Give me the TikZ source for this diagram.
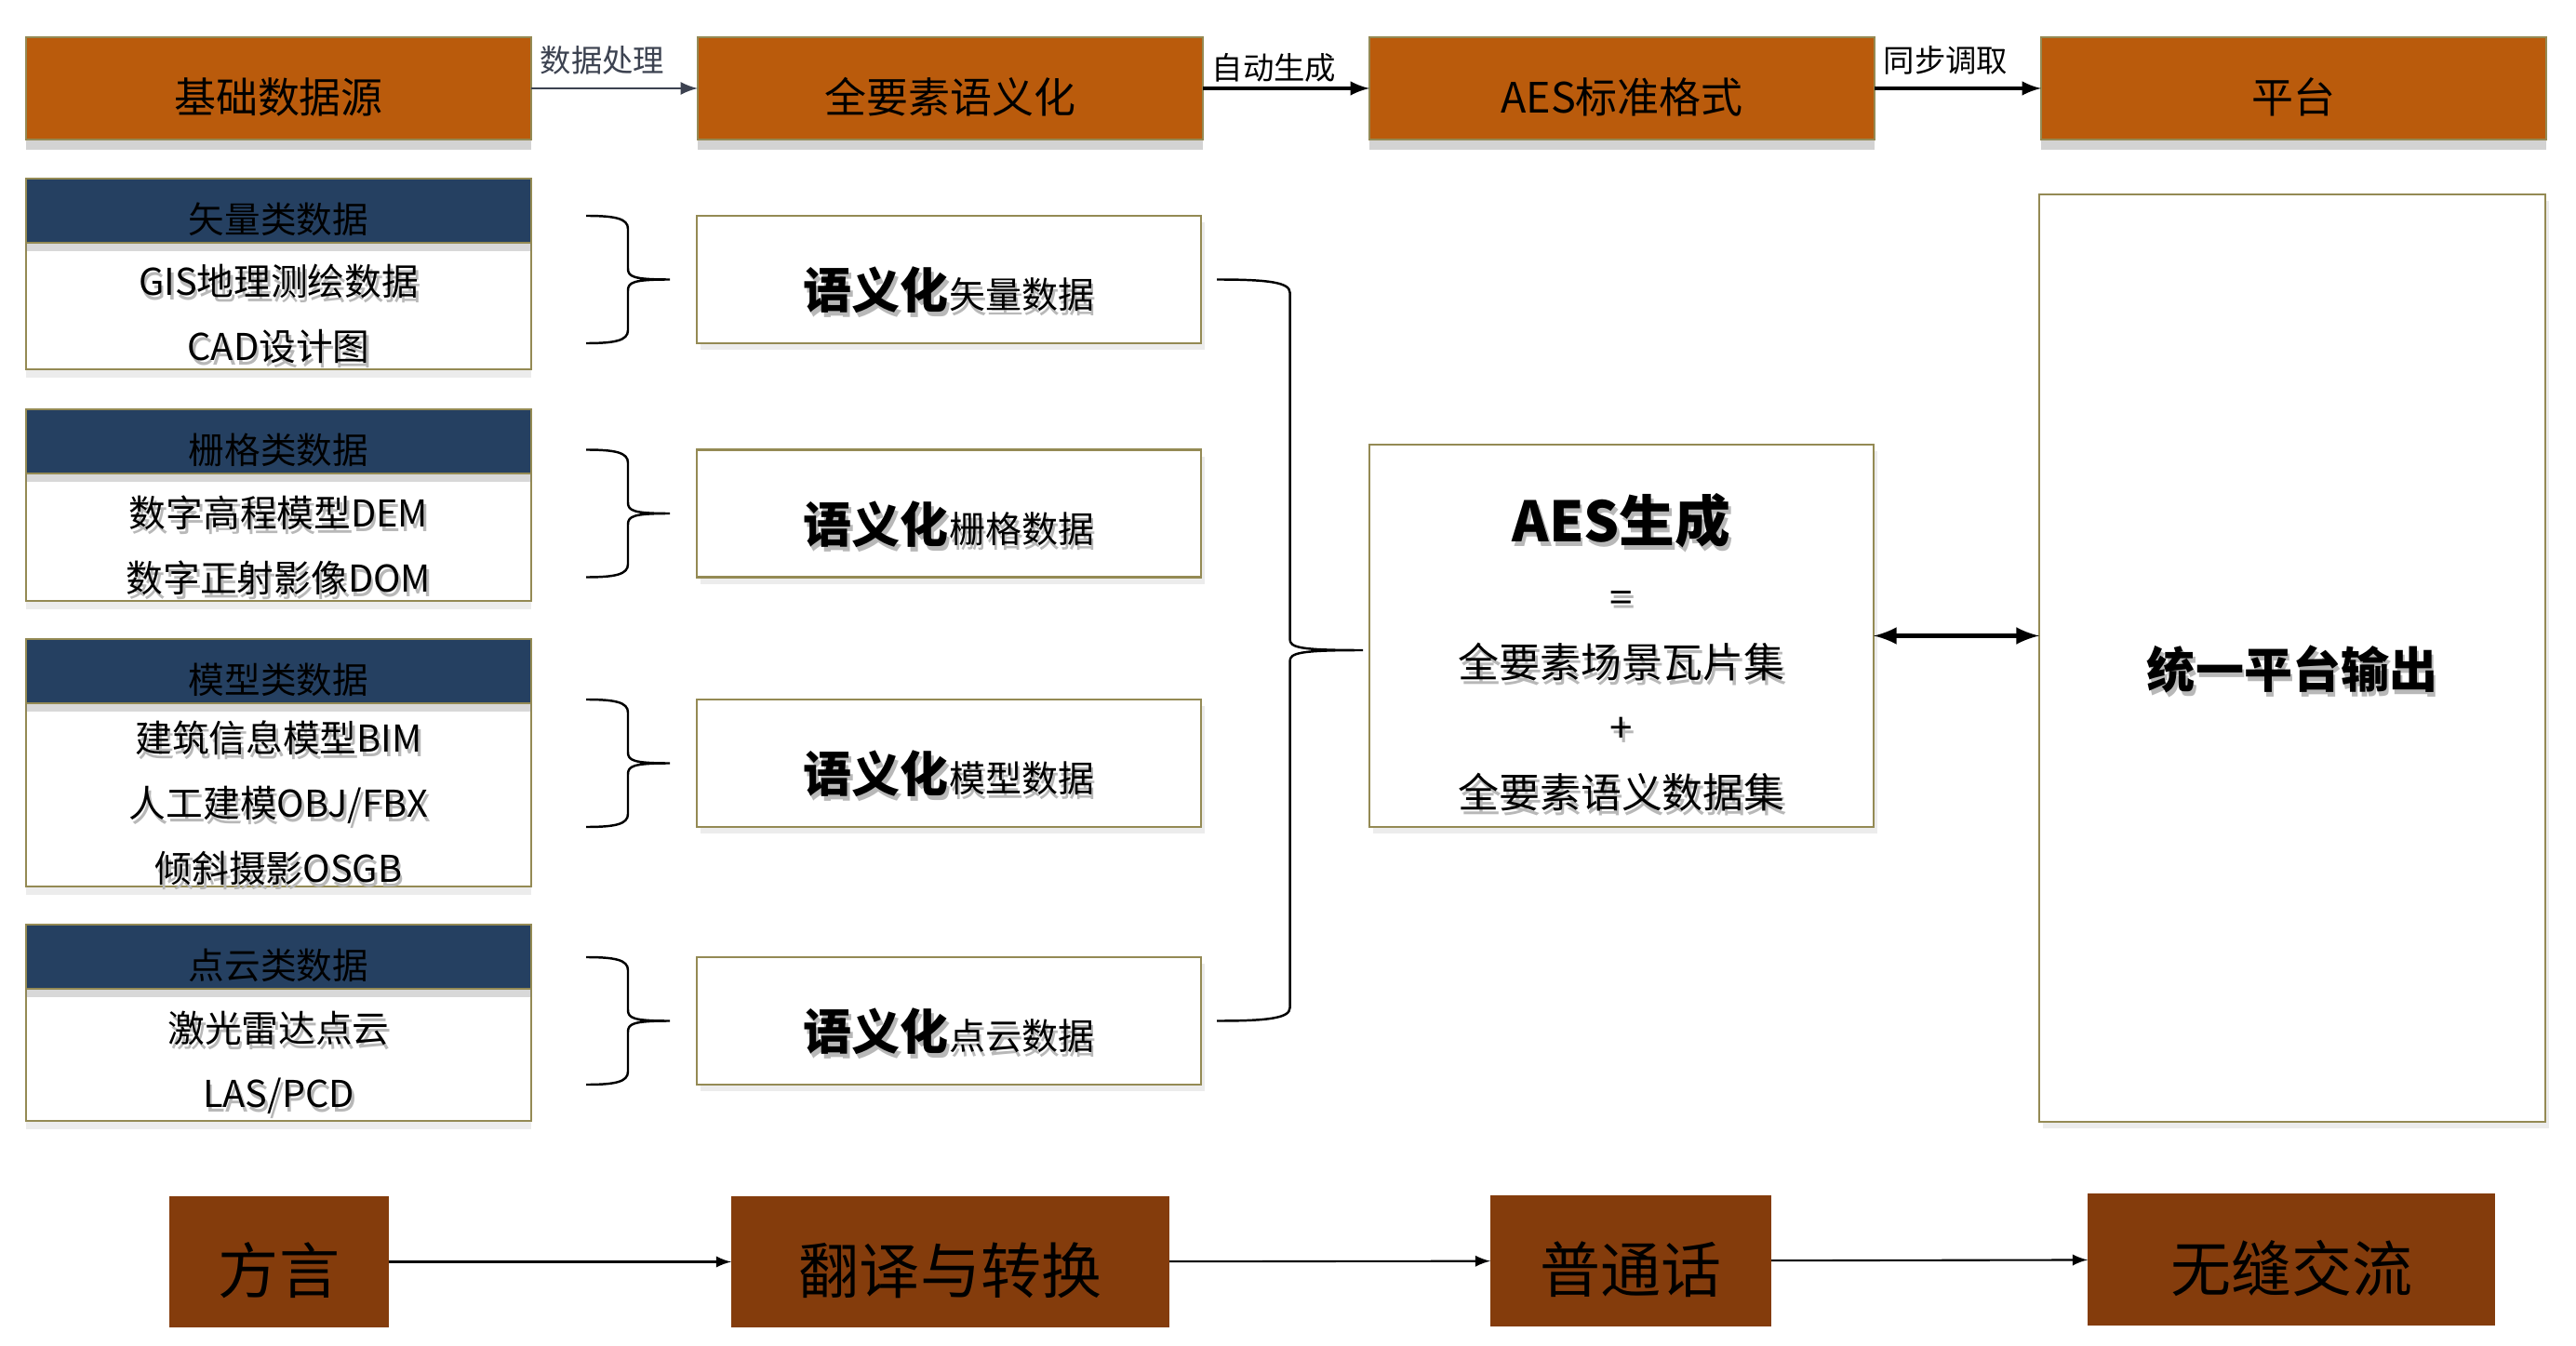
\documentclass[tikz,border=0pt]{standalone}
\usepackage{fontspec}
\setmainfont{Noto Sans CJK SC}
\usetikzlibrary{positioning, calc, shadows}
\definecolor{rust}{RGB}{186,91,12}
\definecolor{umber}{RGB}{132,60,12}
\definecolor{navy}{RGB}{37,64,97}
\definecolor{tan}{RGB}{148,138,84}
\definecolor{slate}{RGB}{60,66,80}
\newcommand{\fsz}[2]{\fontsize{#1pt}{#2pt}\selectfont}
% text with a soft shadow under it
\newcommand{\shtxt}[1]{\leavevmode\rlap{\raisebox{-1.4pt}{\kern0.8pt\textcolor{black!28}{#1}}}#1}
% lower the ink of a text, keep its box
\newcommand{\dn}[2][2.6pt]{\raisebox{-#1}[\height][\depth]{#2}}
% right brace: top point, bottom point, width
\newcommand{\rbrc}[3]{%
  \draw[line width=0.7pt] let \p1=(#1), \p2=(#2), \n1={#3}, \n2={(\y1+\y2)/2} in
    (\x1,\y1) .. controls (\x1+0.35*\n1,\y1) and (\x1+0.5*\n1,\y1-0.03cm) .. (\x1+0.5*\n1,\y1-0.14cm)
    -- (\x1+0.5*\n1,\n2+0.12cm) .. controls (\x1+0.5*\n1,\n2+0.03cm) and (\x1+0.56*\n1,\n2) .. (\x1+\n1,\n2)
    .. controls (\x1+0.56*\n1,\n2) and (\x1+0.5*\n1,\n2-0.03cm) .. (\x1+0.5*\n1,\n2-0.12cm)
    -- (\x1+0.5*\n1,\y2+0.14cm) .. controls (\x1+0.5*\n1,\y2+0.03cm) and (\x1+0.35*\n1,\y2) .. (\x1,\y2);}

\begin{document}
\begin{tikzpicture}[
    every node/.style={inner sep=0pt, outer sep=0pt},
    topbox/.style={draw=tan, line width=0.8pt, fill=rust, minimum width=5.43cm, minimum height=1.1cm,
      font=\fsz{12.8}{15}, drop shadow={shadow xshift=0pt, shadow yshift=-3pt, opacity=.35}},
    headbox/.style={draw=tan, line width=0.8pt, fill=navy, minimum width=5.43cm, minimum height=0.69cm,
      font=\fsz{11}{13}, drop shadow={shadow xshift=0pt, shadow yshift=-2.5pt, opacity=.3}},
    bodybox/.style={draw=tan, line width=0.8pt, fill=white, minimum width=5.43cm,
      drop shadow={shadow xshift=0pt, shadow yshift=-2.5pt, opacity=.15}},
    lines/.style={align=center, font=\fsz{11.3}{19.9}},
    whitebox/.style={draw=tan, line width=0.7pt, fill=white, minimum width=5.42cm,
      drop shadow={shadow xshift=1pt, shadow yshift=-2pt, opacity=.15}},
    botbox/.style={fill=umber, minimum height=1.41cm, font=\fsz{18.5}{22}},
    lbl/.style={font=\fsz{9.5}{11}, above=0.15cm, xshift=-0.13cm},
  ]
  \useasboundingbox (0,0) rectangle (27.69,-14.47);

  % top row
  \node[topbox] (src) at (2.995,-0.95) {\dn{基础数据源}};
  \node[topbox, right=1.79cm of src] (sem) {\dn{全要素语义化}};
  \node[topbox, right=1.79cm of sem] (std) {\dn{AES标准格式}};
  \node[topbox, right=1.79cm of std] (plat) {\dn{平台}};

  \draw[-latex, slate, line width=0.8pt] (src) -- node[lbl] {数据处理} (sem);
  \draw[-latex, line width=1pt] (sem) -- node[lbl, yshift=-0.08cm] {自动生成} (std);
  \draw[-latex, line width=1pt] (std) -- node[lbl] {同步调取} (plat);

  % source data groups
  \node[bodybox, minimum height=1.36cm] (b1) at (2.995,-3.29) {};
  \node[headbox, above=0pt of b1] (h1) {\dn{矢量类数据}};
  \node[lines] (t1) at ([yshift=-0.11cm]b1.center) {\shtxt{GIS地理测绘数据}\\\shtxt{CAD设计图}};
  \node[bodybox, minimum height=1.37cm] (b2) at (2.995,-5.775) {};
  \node[headbox, above=0pt of b2] (h2) {\dn{栅格类数据}};
  \node[lines] (t2) at ([yshift=-0.11cm]b2.center) {\shtxt{数字高程模型DEM}\\\shtxt{数字正射影像DOM}};
  \node[bodybox, minimum height=1.97cm] (b3) at (2.995,-8.545) {};
  \node[headbox, above=0pt of b3] (h3) {\dn{模型类数据}};
  \node[lines] (t3) at ([yshift=-0.11cm]b3.center) {\shtxt{建筑信息模型BIM}\\\shtxt{人工建模OBJ/FBX}\\\shtxt{倾斜摄影OSGB}};
  \node[bodybox, minimum height=1.42cm] (b4) at (2.995,-11.34) {};
  \node[headbox, above=0pt of b4] (h4) {\dn{点云类数据}};
  \node[lines] (t4) at ([yshift=-0.11cm]b4.center) {\shtxt{激光雷达点云}\\\shtxt{LAS/PCD}};

  % semantic boxes
  \node[whitebox, minimum height=1.37cm] (v1) at (10.20,-3.005) {\dn[4pt]{\shtxt{{\bfseries\fsz{14.8}{17}语义化}{\fsz{11.1}{13}矢量数据}}}};
  \node[whitebox, minimum height=1.37cm] (v2) at (10.20,-5.52) {\dn[4pt]{\shtxt{{\bfseries\fsz{14.8}{17}语义化}{\fsz{11.1}{13}栅格数据}}}};
  \node[whitebox, minimum height=1.37cm] (v3) at (10.20,-8.205) {\dn[4pt]{\shtxt{{\bfseries\fsz{14.8}{17}语义化}{\fsz{11.1}{13}模型数据}}}};
  \node[whitebox, minimum height=1.37cm] (v4) at (10.20,-10.975) {\dn[4pt]{\shtxt{{\bfseries\fsz{14.8}{17}语义化}{\fsz{11.1}{13}点云数据}}}};

  \foreach \i in {1,...,4}{
    \rbrc{[xshift=-1.19cm]v\i.north west}{[xshift=-1.19cm]v\i.south west}{0.9cm}
  }
  \rbrc{[xshift=0.17cm]v1.east}{[xshift=0.17cm]v4.east}{1.57cm}

  % AES and output
  \node[whitebox, minimum height=4.11cm] (aes) at (17.43,-6.835) {};
  \node[align=center, font=\fsz{12.5}{19.9}] (aestxt) at ([yshift=-0.2cm]aes.center)
    {\shtxt{\bfseries\fsz{17}{20}AES生成}\\[1.8pt]\shtxt{=}\\\shtxt{全要素场景瓦片集}\\\shtxt{+}\\\shtxt{全要素语义数据集}};
  \node[whitebox, minimum width=5.44cm, minimum height=9.97cm] (out) at (24.64,-7.075) {};
  \node[font=\bfseries\fsz{14.8}{17}] (outtxt) at ([yshift=-0.14cm]out.center) {\shtxt{统一平台输出}};
  \draw[latex-latex, line width=1.4pt] (aes.east) -- (aes.east -| out.west);

  % bottom analogy row
  \node[botbox, minimum width=2.36cm] (dia) at (3.00,-13.565) {\dn{方言}};
  \node[botbox, minimum width=4.71cm] (trn) at (10.215,-13.565) {\dn{翻译与转换}};
  \node[botbox, minimum width=3.02cm] (mand) at (17.53,-13.555) {\dn{普通话}};
  \node[botbox, minimum width=4.38cm, minimum height=1.42cm] (comm) at (24.63,-13.54) {\dn{无缝交流}};
  \draw[-latex, line width=0.6pt] (dia) -- (trn);
  \draw[-latex, line width=0.6pt] (trn) -- (mand);
  \draw[-latex, line width=0.6pt] (mand) -- (comm);
\end{tikzpicture}
\end{document}
